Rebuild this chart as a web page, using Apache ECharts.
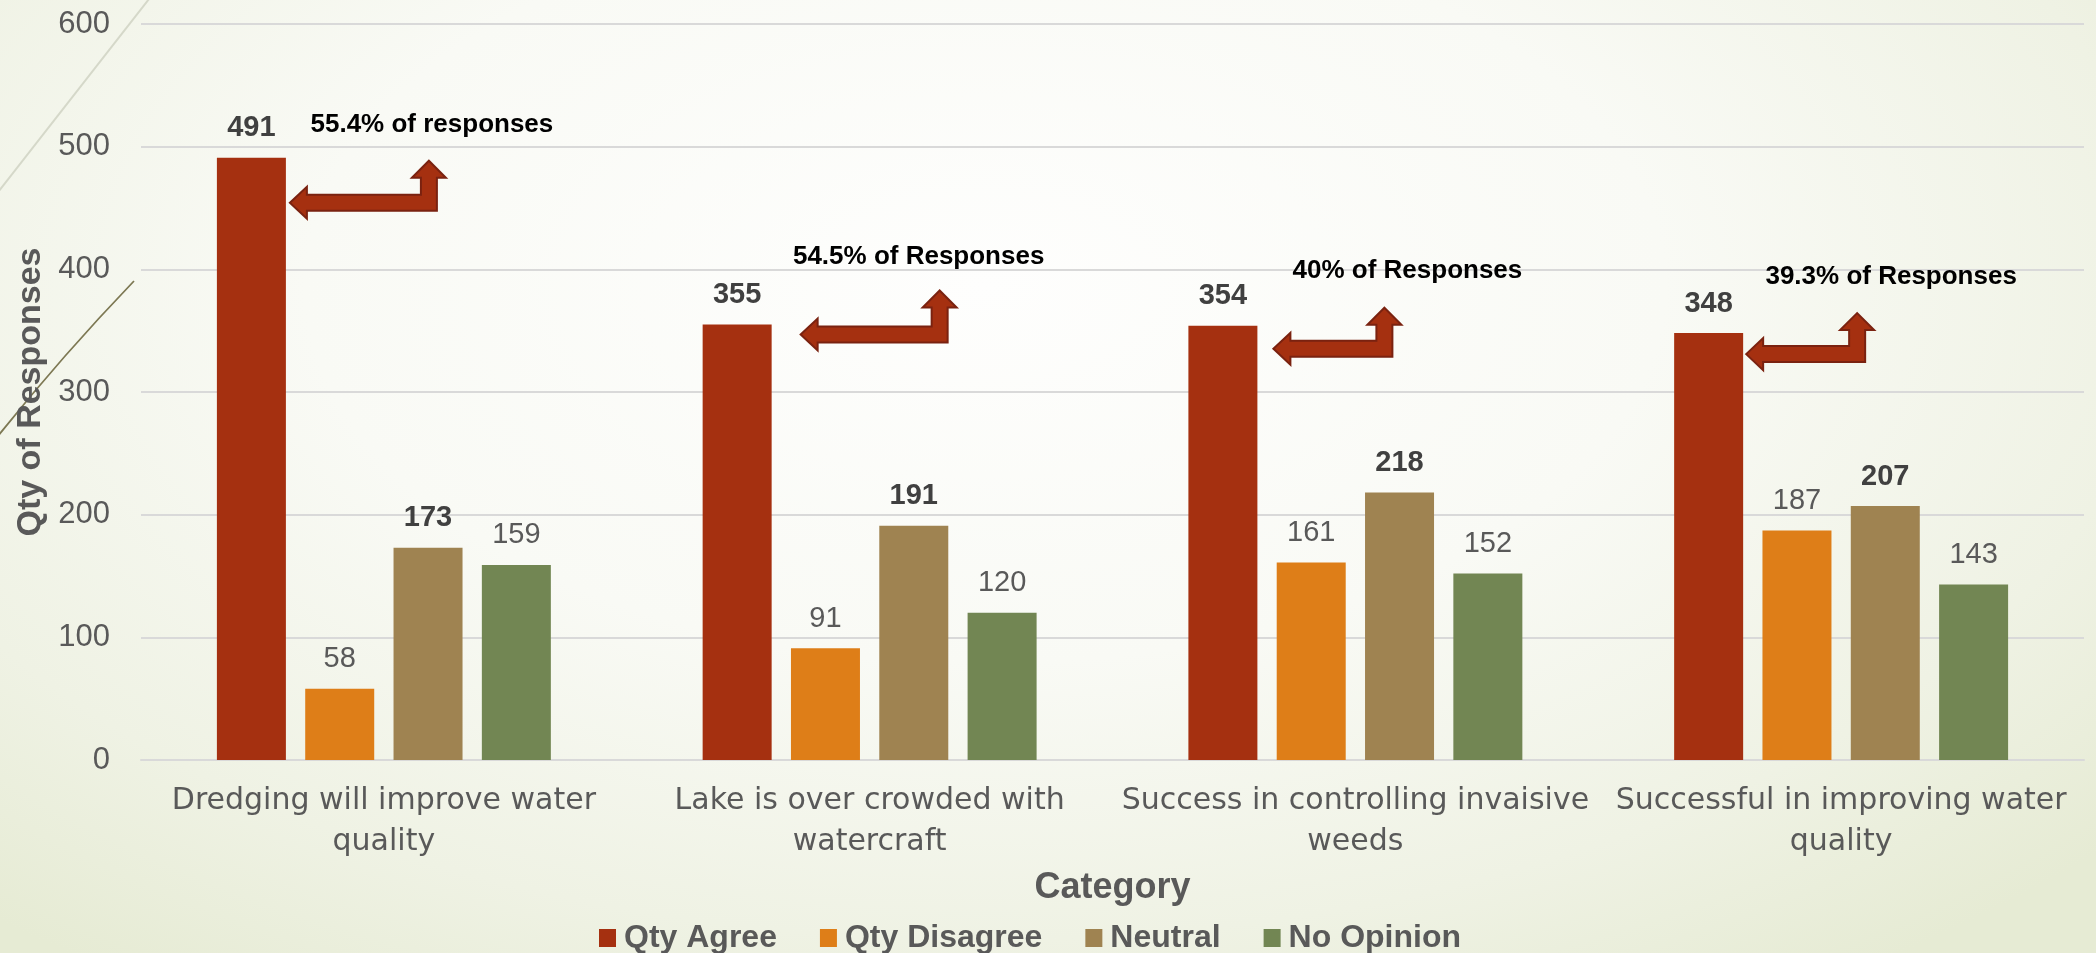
<!DOCTYPE html>
<html>
<head>
<meta charset="utf-8">
<script src="https://cdn.jsdelivr.net/npm/echarts@6/dist/echarts.min.js"></script>
<style>
  html, body { margin: 0; padding: 0; }
  body {
    width: 2096px; height: 953px; overflow: hidden;
    background: radial-gradient(ellipse 72% 88% at 47% 30%, #fefefd 0%, #f9faf5 45%, #eff2e4 78%, #e6ebd4 100%);
  }
  #chart { width: 2096px; height: 953px; }
</style>
</head>
<body>
<div id="chart"></div>
<script>
// Survey results per statement
const categories = [
  'Dredging will improve water\nquality',
  'Lake is over crowded with\nwatercraft',
  'Success in controlling invaisive\nweeds',
  'Successful in improving water\nquality'
];
const seriesNames = ['Qty Agree', 'Qty Disagree', 'Neutral', 'No Opinion'];
const qtyAgree    = [491, 355, 354, 348];
const qtyDisagree = [58, 91, 161, 187];
const neutral     = [173, 191, 218, 207];
const noOpinion   = [159, 120, 152, 143];
const yTicks = [0, 100, 200, 300, 400, 500, 600];
const shareLabels = ['55.4% of responses', '54.5% of Responses', '40% of Responses', '39.3% of Responses'];

// Styling
const palette = ['#A53010', '#DE7E18', '#9F8351', '#728653'];
const boldLabel = [true, false, true, false];
const BAR_W = 69;
const TEXT_GRAY = '#595959';

// Callout placement relative to the top-right corner of each "Qty Agree" bar
const callouts = [
  { dx: 4,  dy: 45, w: 156, up: 42, tx: 146, ty: -33 },
  { dx: 29, dy: 10, w: 156, up: 44, tx: 147, ty: -68 },
  { dx: 16, dy: 23, w: 128, up: 41, tx: 150, ty: -55 },
  { dx: 3,  dy: 21, w: 128, up: 41, tx: 148, ty: -56 }
];

const values = [qtyAgree, qtyDisagree, neutral, noOpinion];
const chart = echarts.init(document.getElementById('chart'), null, { renderer: 'canvas' });

chart.setOption({
  animation: false,
  backgroundColor: 'transparent',
  color: palette,
  grid: { left: 141, right: 12, top: 24, bottom: 193, containLabel: false, outerBoundsMode: 'none' },
  legend: {
    data: seriesNames,
    left: 594, top: 917,
    icon: 'rect', itemWidth: 17, itemHeight: 18, itemGap: 43,
    selectedMode: false,
    textStyle: { fontFamily: 'Liberation Sans', fontWeight: 'bold', fontSize: 32, color: TEXT_GRAY, padding: [0, 0, 0, 3] }
  },
  xAxis: {
    type: 'category',
    data: categories,
    axisTick: { show: false },
    axisLine: { lineStyle: { color: '#D9D9D9', width: 2 } },
    axisLabel: { interval: 0, margin: 21, fontFamily: 'DejaVu Sans', fontSize: 30, lineHeight: 41, color: TEXT_GRAY },
    name: 'Category',
    nameLocation: 'middle',
    nameGap: 110,
    nameTextStyle: { fontFamily: 'Liberation Sans', fontWeight: 'bold', fontSize: 36, color: TEXT_GRAY }
  },
  yAxis: {
    type: 'value',
    min: yTicks[0],
    max: yTicks[yTicks.length - 1],
    interval: yTicks[1] - yTicks[0],
    axisLine: { show: false },
    axisTick: { show: false },
    axisLabel: { margin: 31, fontFamily: 'Liberation Sans', fontSize: 31, color: TEXT_GRAY },
    splitLine: { lineStyle: { color: '#D9D9D9', width: 2 } },
    name: 'Qty of Responses',
    nameLocation: 'middle',
    nameRotate: 90,
    nameGap: 90,
    nameTextStyle: { fontFamily: 'Liberation Sans', fontWeight: 'bold', fontSize: 34, color: TEXT_GRAY }
  },
  series: values.map((v, i) => ({
    name: seriesNames[i],
    type: 'bar',
    data: v,
    barWidth: BAR_W,
    barGap: '28%',
    itemStyle: { color: palette[i] },
    emphasis: { disabled: true },
    label: {
      show: true,
      position: 'top',
      distance: 15,
      fontFamily: 'Liberation Sans',
      fontSize: 29,
      fontWeight: boldLabel[i] ? 'bold' : 'normal',
      color: boldLabel[i] ? '#404040' : TEXT_GRAY
    }
  }))
});

// Left-and-up arrow outline, tip of the left head at (0, 0)
function arrowPoints(w, up) {
  const hh = 16, hl = 17, st = 8;
  const cx = w - hh - 1;
  return [
    [0, 0], [hl, -hh], [hl, -st], [cx - st, -st], [cx - st, -up + hl],
    [cx - hh - 1, -up + hl], [cx, -up], [cx + hh + 1, -up + hl], [cx + st, -up + hl],
    [cx + st, st], [hl, st], [hl, hh]
  ];
}

const agreeData = chart.getModel().getSeriesByIndex(0).getData();
const graphics = [
  // slide decoration strokes
  { type: 'bezierCurve', z: -10, silent: true,
    shape: { x1: 149, y1: -1, cpx1: 80, cpy1: 88, x2: -1, y2: 191 },
    style: { stroke: '#d5d8c9', lineWidth: 2, fill: null } },
  { type: 'bezierCurve', z: -10, silent: true,
    shape: { x1: 134, y1: 281, cpx1: 62, cpy1: 356, x2: -2, y2: 436 },
    style: { stroke: '#7d7853', lineWidth: 1.8, fill: null } }
];

callouts.forEach((c, i) => {
  const lay = agreeData.getItemLayout(i);
  const right = lay.x + lay.width;
  const top = Math.min(lay.y, lay.y + lay.height);
  graphics.push({
    type: 'polygon', z: 50, silent: true,
    x: right + c.dx, y: top + c.dy,
    shape: { points: arrowPoints(c.w, c.up) },
    style: { fill: '#A53010', stroke: '#7a2210', lineWidth: 2, lineJoin: 'miter' }
  });
  graphics.push({
    type: 'text', z: 50, silent: true,
    x: right + c.tx, y: top + c.ty,
    style: {
      text: shareLabels[i],
      font: 'bold 26px "Liberation Sans"',
      fill: '#000000',
      align: 'center', verticalAlign: 'middle',
      textAlign: 'center', textVerticalAlign: 'middle'
    }
  });
});

chart.setOption({ graphic: graphics });
</script>
</body>
</html>
